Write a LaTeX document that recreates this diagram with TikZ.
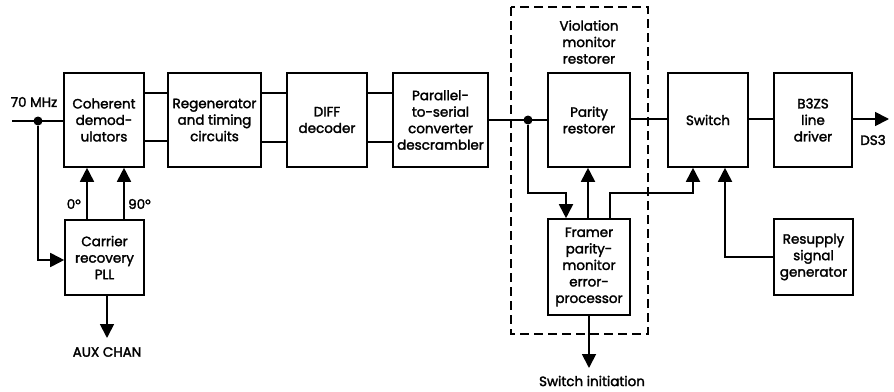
\documentclass[tikz,border=0pt]{standalone}
\usepackage{fontspec}
\setmainfont{Poppins}[UprightFeatures={FakeBold=2}]
\usetikzlibrary{arrows.meta}
\tikzset{
  txt/.style={font=\fontsize{13.5}{16.5}\selectfont},
  box/.style={draw, line width=1.6pt, align=center, inner sep=1pt, txt},
  wire/.style={line width=1.8pt},
  arr/.style={wire, -{Triangle[length=14pt,width=14pt]}},
  lbl/.style={txt, inner sep=0pt},
  dotn/.style={circle, fill, inner sep=0pt, minimum size=9pt},
  dashbox/.style={line width=1.4pt, dash pattern=on 9pt off 5pt}
}
\begin{document}
\begin{tikzpicture}[x=1pt,y=-1pt]
\useasboundingbox (0,0) rectangle (894,391);
% boxes
\node[box, minimum width=80pt, minimum height=94pt] (coh) at (104,120) {Coherent\\demod-\\ulators};
\node[box, minimum width=93pt, minimum height=94pt] (reg) at (214.5,120) {Regenerator\\and timing\\circuits};
\node[box, minimum width=80pt, minimum height=94pt] (diff) at (327,120) {DIFF\\decoder};
\node[box, minimum width=95pt, minimum height=94pt] (pts) at (440.5,120) {Parallel-\\to-serial\\converter\\descrambler};
\node[box, minimum width=82pt, minimum height=94pt] (par) at (589,120) {Parity\\restorer};
\node[box, minimum width=80pt, minimum height=94pt] (sw) at (708,120) {Switch};
\node[box, minimum width=78pt, minimum height=94pt] (b3) at (813,120) {B3ZS\\line\\driver};
\node[box, minimum width=79pt, minimum height=75pt] (car) at (104.5,257.5) {Carrier\\recovery\\PLL};
\node[box, minimum width=82pt, minimum height=96pt] (frm) at (589,267) {Framer\\parity-\\monitor\\error-\\processor};
\node[box, minimum width=79pt, minimum height=76pt] (res) at (813.5,257) {Resupply\\signal\\generator};
% dashed group
\draw[dashbox] (511,7) rectangle (648,334);
\node[lbl, align=center] (viol) at (589,42) {Violation\\monitor\\restorer};
% labels
\node[lbl] (mhz) at (34,102) {70 MHz};
\node[lbl, anchor=east] (zero) at (81,204) {0°};
\node[lbl, anchor=west] (ninety) at (128,204) {90°};
\node[lbl] (aux) at (107,352) {AUX CHAN};
\node[lbl] (ds3) at (873,140) {DS3};
\node[lbl] (swi) at (592,381) {Switch initiation};
% coordinates
\coordinate (in) at (12,121);
\node[dotn] (d1) at (38,121) {};
\node[dotn] (d2) at (528,120) {};
\coordinate (out) at (889,119);
\coordinate (auxend) at (107,338);
\coordinate (swiend) at (589,368);
% input
\draw[wire] (in) -- (coh.west |- in);
\draw[arr] (d1) |- (car.west |- 0,260);
\draw[arr] (car.north -| 87,0) -- (coh.south -| 87,0);
\draw[arr] (car.north -| 124,0) -- (coh.south -| 124,0);
\draw[arr] (car.south -| auxend) -- (auxend);
% chain
\draw[wire] (coh.east |- 0,93) -- (reg.west |- 0,93);
\draw[wire] (coh.east |- 0,141) -- (reg.west |- 0,141);
\draw[wire] (reg.east |- 0,93) -- (diff.west |- 0,93);
\draw[wire] (reg.east |- 0,142) -- (diff.west |- 0,142);
\draw[wire] (diff.east |- 0,93) -- (pts.west |- 0,93);
\draw[wire] (diff.east |- 0,142) -- (pts.west |- 0,142);
\draw[wire] (pts.east |- d2) -- (par.west |- d2);
\draw[wire] (par.east |- 0,119) -- (sw.west |- 0,119);
\draw[wire] (sw.east |- 0,119) -- (b3.west |- 0,119);
\draw[arr] (b3.east |- out) -- (out);
% feedback
\draw[arr] (d2) |- (566,193) -- (frm.north -| 566,0);
\draw[arr] (frm.north -| 588,0) -- (par.south -| 588,0);
\draw[arr] (frm.north -| 610,0) |- (693,193) -- (sw.south -| 693,0);
\draw[arr] (res.west) -| (sw.south -| 725,0);
\draw[arr] (frm.south) -- (swiend);
\end{tikzpicture}
\end{document}
